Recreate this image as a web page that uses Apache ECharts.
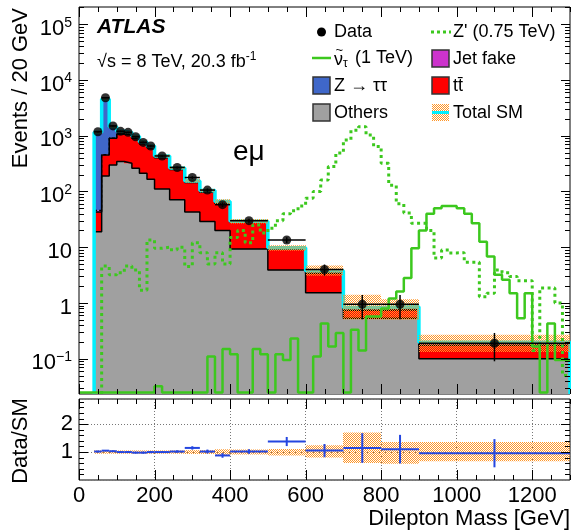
<!DOCTYPE html>
<html><head><meta charset="utf-8">
<script src="https://cdn.jsdelivr.net/npm/echarts@6/dist/echarts.min.js"></script>
<style>html,body{margin:0;padding:0;background:#fff}#c{width:571px;height:532px}</style>
</head><body><div id="c"></div>
<script>
// ---------------- data ----------------
const binEdges   = [40,60,80,100,120,140,160,180,200,240,280,320,360,400,500,600,700,800,900,1300];
const dataValues = [1180,4800,1500,1200,1150,960,760,655,434,270,178,106,58,30,13.5,4.0,0.95,0.95,0.19];
const dataErrors = [34,69,39,35,34,31,28,26,15,12,9.4,7.3,5.4,2.4,1.6,0.9,0.44,0.44,0.1];
const others     = [19,190,300,345,320,260,212,166,111,71,43,29,20,9.3,3.9,1.53,0.53,0.53,0.10];
const ttbar      = [24,262,600,735,730,640,508,444,294,177,102,68,41,18.7,5.3,1.87,0.21,0.23,0.075];
const jetFake    = [3,8,6,5,4,4,3,3,2,1.5,1,0.7,0.5,0.3,0.15,0.08,0.03,0.03,0.01];
const zTauTau    = [1111,4111,550,115,96,76,53,42,27,15.5,9,6.3,4.5,1.1,0.45,0.32,0.06,0.07,0.013];
const sysUp      = [0.06,0.06,0.06,0.06,0.06,0.06,0.06,0.06,0.06,0.06,0.07,0.07,0.10,0.09,0.11,0.24,0.70,0.36,0.36];
const sysDown    = [0.06,0.06,0.06,0.06,0.06,0.06,0.06,0.06,0.06,0.06,0.07,0.07,0.10,0.09,0.12,0.19,0.39,0.42,0.33];
// signals, 20 GeV bins starting at 0 GeV
const sigStart = 0, sigWidth = 20;
const sneutrino = [0,0,0,0,0,0,0,0,0,0,0.032,0,0,0,0,0,0,0.11,0,0.15,0.12,0,0,0.15,0.12,0,0.12,0.095,0.23,0,0,0.11,0.43,0.165,0.29,0,0.33,0.14,0.57,0.57,0.8,1.2,1.6,2.8,9.6,20,40,50,55,55,50,40,27,12.6,6.8,3.2,2.6,1.5,0.53,1.5,0.165,0,0.43,0.095,0.095];
const zprime    = [0,0,0,4.6,3.2,3.5,4.6,3.9,1.7,13.5,9.6,10,9,10,4.5,12,8,5,8,5,15,20,12,25,18,22,30,40,45,55,76,100,160,280,490,840,1260,1450,1030,640,320,130,60,41,27,27,20,6.4,8.9,7.9,8,5.4,5.4,1.3,1.5,3.9,3.5,3,2.5,2.5,0.14,1.86,1.86,1.0,0.05];
const xTickLabels = ['0','200','400','600','800','1000','1200'];

// ---------------- setup ----------------
const yMin = 0.0233, yMax = 2.04e5;
const FONT = '"Liberation Sans", Arial, Helvetica, sans-serif';
const C = {gray:'#a0a0a0', red:'#ff0000', blue:'#3f67c9', mag:'#cc33cc', cyan:'#00f0ff', green:'#3cc81e', rblue:'#2446e0'};

function makeHatch(){
  const c = document.createElement('canvas'); c.width = 4; c.height = 4;
  const g = c.getContext('2d'); g.fillStyle = 'rgba(255,150,40,1)';
  for (let y=0;y<4;y++) for (let x=0;x<4;x++) if ((x+y)%2===0) g.fillRect(x,y,1,1);
  return c;
}
const hatch = {image: makeHatch(), repeat: 'repeat'};

const cum1 = others.slice();
const cum2 = others.map((v,i)=>v+ttbar[i]);
const cum3 = cum2.map((v,i)=>v+jetFake[i]);
const total = cum3.map((v,i)=>v+zTauTau[i]);
const sigEdges = sneutrino.map((_,i)=>sigStart+i*sigWidth).concat([sigStart+sneutrino.length*sigWidth]);

function rectSeries(lo, hi, style, gi, z){
  return {type:'custom', xAxisIndex:gi, yAxisIndex:gi, z:z, clip:true, silent:true, animation:false,
    data: lo.map((l,i)=>[binEdges[i], binEdges[i+1], Math.max(l, gi===0?yMin:0), hi[i]]),
    encode:{x:[0,1], y:[2,3]},
    renderItem(params, api){
      const p0 = api.coord([api.value(0), api.value(3)]);
      const p1 = api.coord([api.value(1), api.value(2)]);
      const x0 = Math.round(p0[0]), x1 = Math.round(p1[0]);
      return {type:'rect', shape:{x:x0, y:p0[1], width:x1-x0, height:p1[1]-p0[1]}, style:style};
    }};
}
function stepPts(edges, vals, floorVal, startFloor, endFloor){
  const pts = [];
  let first = 0;
  if (startFloor === 'skip') { while (first < vals.length && vals[first] <= 0) first++; }
  if (startFloor) pts.push([edges[first], floorVal]);
  for (let i=first;i<vals.length;i++){ const y = Math.max(vals[i], floorVal); pts.push([edges[i], y]); pts.push([edges[i+1], y]); }
  if (endFloor) pts.push([edges[edges.length-1], floorVal]);
  return pts;
}
function lineSeries(pts, ls, z){
  return {type:'line', xAxisIndex:0, yAxisIndex:0, data:pts, showSymbol:false, symbol:'none', z:z,
    silent:true, animation:false, clip:true, lineStyle:ls};
}
function errSeries(vals, errs, gi, color, z, lw){
  return {type:'custom', xAxisIndex:gi, yAxisIndex:gi, z:z, clip:true, silent:true, animation:false,
    data: vals.map((v,i)=>[binEdges[i], binEdges[i+1], v, errs[i]]),
    encode:{x:[0,1], y:2},
    renderItem(params, api){
      const x0=api.value(0), x1=api.value(1), v=api.value(2), e=api.value(3);
      const xc=(x0+x1)/2;
      const a=api.coord([x0,v]), b=api.coord([x1,v]);
      const lo = Math.max(v-e, gi===0?yMin:0);
      const t=api.coord([xc,v+e]), u=api.coord([xc,lo]);
      const st={stroke:color, lineWidth:lw};
      return {type:'group', children:[
        {type:'line', shape:{x1:a[0],y1:a[1],x2:b[0],y2:b[1]}, style:st},
        {type:'line', shape:{x1:t[0],y1:t[1],x2:u[0],y2:u[1]}, style:st}]};
    }};
}
function tickSeries(gi, xt, yt, yRef){
  return {type:'custom', xAxisIndex:gi, yAxisIndex:gi, z:50, clip:false, silent:true, animation:false,
    data:[[0,yRef]], encode:{x:0,y:1},
    renderItem(params, api){
      const cs = params.coordSys; const ch = [];
      const st = {stroke:'#000', lineWidth:1};
      xt.forEach(t=>{ const px = Math.round(api.coord([t.v,yRef])[0])+0.5; const L = t.m?10:5;
        ch.push({type:'line', shape:{x1:px,y1:cs.y+cs.height,x2:px,y2:cs.y+cs.height-L}, style:st});
        ch.push({type:'line', shape:{x1:px,y1:cs.y,x2:px,y2:cs.y+L}, style:st}); });
      yt.forEach(t=>{ const py = Math.round(api.coord([0,t.v])[1])+0.5; const L = t.m?9:5;
        ch.push({type:'line', shape:{x1:cs.x,y1:py,x2:cs.x+L,y2:py}, style:st});
        ch.push({type:'line', shape:{x1:cs.x+cs.width,y1:py,x2:cs.x+cs.width-L,y2:py}, style:st}); });
      return {type:'group', children:ch};
    }};
}
const xTicks = []; for (let v=0; v<=1300; v+=50) xTicks.push({v:v, m:v%200===0});
const yTicksMain = []; for (let d=-2; d<=5; d++) for (let k=1;k<=9;k++){ const v=k*Math.pow(10,d); if (v>yMin && v<yMax) yTicksMain.push({v:v, m:k===1}); }
const yTicksRatio = []; for (let i=1;i<15;i++) yTicksRatio.push({v:i*0.2, m:i%5===0});

const ratio = dataValues.map((v,i)=>v/total[i]);
const ratioErr = dataErrors.map((e,i)=>e/total[i]);

function logLabel(v){
  const e = Math.round(Math.log10(v));
  if (Math.abs(Math.log10(v)-e) > 1e-6) return '';
  if (e===0) return '{b|1}';
  if (e===1) return '{b|10}';
  return '{b|10}{s|' + String(e).replace('-', '−') + '}';
}

const chart = echarts.init(document.getElementById('c'), null, {renderer:'canvas'});
const txt = (s, x, y, size, extra) => Object.assign({type:'text', x:x, y:y, z:100,
  style: Object.assign({text:s, fill:'#000', font: size+'px '+FONT, fontSize:size, fontFamily:FONT,
    align:'left', verticalAlign:'middle', textAlign:'left', textVerticalAlign:'middle'}, extra||{})});
const box = (x,y,fill) => ({type:'rect', z:100, shape:{x:x,y:y,width:17,height:17}, style:{fill:fill, stroke:'#333', lineWidth:1.5}});

const graphics = [
  txt('ATLAS', 97, 27, 21, {fontWeight:'bold', fontStyle:'italic', font:'italic bold 21px '+FONT}),
  txt('{a|√s = 8 TeV, 20.3 fb}{s|-1}', 97, 62, 18, {rich:{a:{fontSize:18,fontFamily:FONT,fill:'#000',lineHeight:22}, s:{fontSize:12,fontFamily:FONT,fill:'#000',verticalAlign:'top',lineHeight:12}}}),
  txt('eμ', 233, 152, 28),
  // legend
  {type:'circle', z:100, shape:{cx:321.5, cy:32, r:4.5}, style:{fill:'#000'}},
  txt('Data', 334, 32, 18),
  {type:'line', z:100, shape:{x1:312,y1:58,x2:331,y2:58}, style:{stroke:C.green, lineWidth:2.5}},
  txt('ν', 334, 60, 18),
  txt('~', 335.5, 50, 13),
  txt('τ', 343, 64, 12),
  txt('(1 TeV)', 355, 58, 18),
  box(313, 77, C.blue), txt('Z → ττ', 334, 86, 18),
  box(313, 104, C.gray), txt('Others', 334, 113, 18),
  {type:'line', z:100, shape:{x1:431,y1:32,x2:451,y2:32}, style:{stroke:C.green, lineWidth:3, lineDash:[3,3]}},
  txt("Z' (0.75 TeV)", 453, 32, 18),
  box(432, 50, C.mag), txt('Jet fake', 453, 59, 18),
  box(432, 77, C.red), txt('tt̄', 453, 86, 18),
  {type:'rect', z:100, shape:{x:432,y:104,width:17,height:17}, style:{fill:hatch}},
  {type:'line', z:101, shape:{x1:432,y1:112.5,x2:449,y2:112.5}, style:{stroke:C.cyan, lineWidth:3}},
  txt('Total SM', 453, 113, 18),
  // axis titles
  txt('Events / 20 GeV', 21, 8, 22, {align:'right', textAlign:'right'}),
  txt('Data/SM', 21, 441, 22, {align:'center', textAlign:'center'}),
  txt('Dilepton Mass [GeV]', 570, 519, 22, {align:'right', textAlign:'right'})
];
graphics[graphics.length-3].rotation = Math.PI/2;
graphics[graphics.length-2].rotation = Math.PI/2;

const option = {
  animation:false,
  backgroundColor:'#fff',
  grid:[
    {left:79, top:7, width:491, height:387, show:true, borderColor:'#000', borderWidth:1, backgroundColor:'transparent'},
    {left:79, top:399, width:491, height:81, show:true, borderColor:'#000', borderWidth:1, backgroundColor:'transparent'}
  ],
  xAxis:[
    {type:'value', gridIndex:0, min:0, max:1300, interval:200, axisLine:{show:false}, axisTick:{show:false}, axisLabel:{show:false}, splitLine:{show:false}, minorTick:{show:false}},
    {type:'value', gridIndex:1, min:0, max:1300, interval:200, axisLine:{show:false}, axisTick:{show:false}, minorTick:{show:false},
      axisLabel:{show:true, color:'#000', fontFamily:FONT, fontSize:22, margin:5, hideOverlap:false, showMaxLabel:false,
        formatter:v=>{ const s=String(Math.round(v)); return xTickLabels.indexOf(s)>=0 ? s : ''; }},
      splitLine:{show:true, lineStyle:{color:'#777', width:1, type:[1,2]}}}
  ],
  yAxis:[
    {type:'log', gridIndex:0, logBase:10, min:yMin, max:yMax, axisLine:{show:false}, axisTick:{show:false}, splitLine:{show:false}, minorTick:{show:false},
      axisLabel:{show:true, margin:7, color:'#000', fontFamily:FONT, fontSize:22, padding:[9,0,0,0], hideOverlap:false, showMinLabel:true, showMaxLabel:true, formatter:logLabel,
        rich:{b:{fontSize:22, fontFamily:FONT, color:'#000', lineHeight:26}, s:{fontSize:14, fontFamily:FONT, color:'#000', verticalAlign:'top', lineHeight:14}}}},
    {type:'value', gridIndex:1, min:0, max:2.9, interval:1, axisLine:{show:false}, axisTick:{show:false}, minorTick:{show:false},
      axisLabel:{show:true, margin:6, color:'#000', fontFamily:FONT, fontSize:22, padding:[5,0,0,0], hideOverlap:false,
        formatter:v=>(Math.abs(v-1)<1e-9?'1':Math.abs(v-2)<1e-9?'2':'')},
      splitLine:{show:true, lineStyle:{color:'#777', width:1, type:[1,2]}}}
  ],
  graphic: graphics,
  series:[
    rectSeries(others.map(()=>yMin), cum1, {fill:C.gray}, 0, 2),
    rectSeries(cum1, cum2, {fill:C.red}, 0, 2),
    rectSeries(cum2, cum3, {fill:C.mag}, 0, 2),
    rectSeries(cum3, total, {fill:C.blue}, 0, 2),
    lineSeries(stepPts(binEdges, cum1, yMin, true, false), {color:'#000', width:1.5}, 3),
    lineSeries(stepPts(binEdges, cum2, yMin, true, false), {color:'#000', width:1.5}, 3),
    lineSeries(stepPts(binEdges, cum3, yMin, false, false), {color:'#000', width:1.2, type:[3,2]}, 3),
    lineSeries(stepPts(binEdges, total, yMin, true, true), {color:C.cyan, width:3.5}, 4),
    rectSeries(total.map((t,i)=>t*(1-sysDown[i])), total.map((t,i)=>t*(1+sysUp[i])), {fill:hatch}, 0, 5),
    lineSeries(stepPts(sigEdges, zprime, yMin, 'skip', false), {color:C.green, width:3, type:[3,3.5], cap:'butt'}, 6),
    lineSeries(stepPts(sigEdges, sneutrino, yMin*1.06, false, false), {color:C.green, width:2.5}, 6),
    errSeries(dataValues, dataErrors, 0, '#000', 8, 1.5),
    {type:'scatter', xAxisIndex:0, yAxisIndex:0, z:9, silent:true, animation:false, symbol:'circle', symbolSize:9,
      itemStyle:{color:'#000'}, data:dataValues.map((v,i)=>[(binEdges[i]+binEdges[i+1])/2, v])},
    tickSeries(0, xTicks, yTicksMain, 1),
    // ratio panel
    rectSeries(sysDown.map(d=>1-d), sysUp.map(u=>1+u), {fill:hatch}, 1, 2),
    errSeries(ratio, ratioErr, 1, C.rblue, 6, 2),
    tickSeries(1, xTicks, yTicksRatio, 1)
  ]
};
chart.setOption(option);
</script></body></html>
